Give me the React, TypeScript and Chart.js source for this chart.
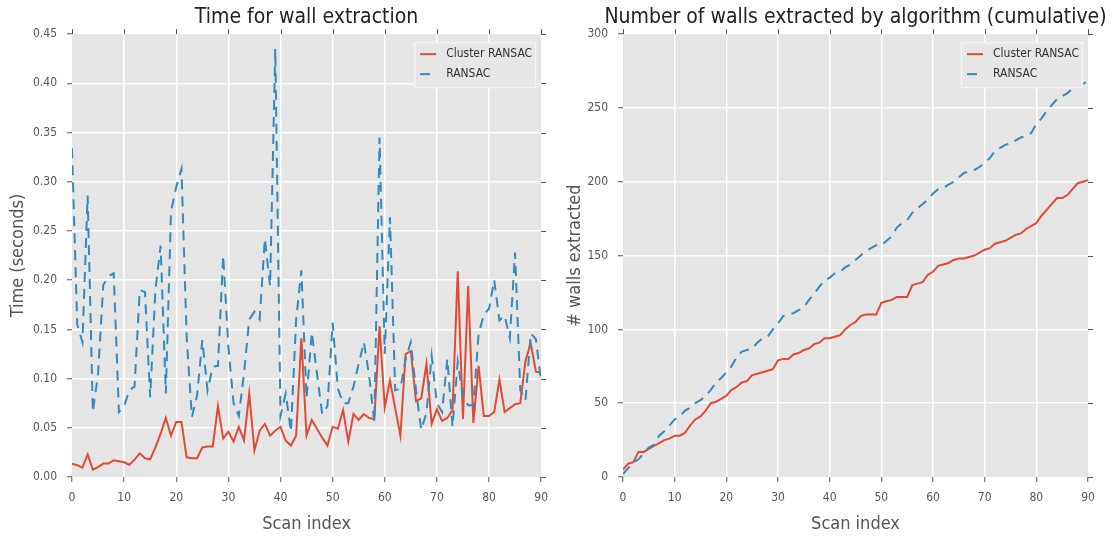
import React, { useEffect, useRef } from "react";
import { Chart, registerables } from "chart.js";

Chart.register(...registerables);

// ---------------- data ----------------
const SCAN_INDEX = [
  0, 1, 2, 3, 4, 5, 6, 7, 8, 9, 10, 11, 12, 13, 14, 15, 16, 17, 18, 19, 20,
  21, 22, 23, 24, 25, 26, 27, 28, 29, 30, 31, 32, 33, 34, 35, 36, 37, 38, 39, 40,
  41, 42, 43, 44, 45, 46, 47, 48, 49, 50, 51, 52, 53, 54, 55, 56, 57, 58, 59, 60,
  61, 62, 63, 64, 65, 66, 67, 68, 69, 70, 71, 72, 73, 74, 75, 76, 77, 78, 79, 80,
  81, 82, 83, 84, 85, 86, 87, 88, 89, 90,
];

const SERIES_LABELS = ["Cluster RANSAC", "RANSAC"];

const CLUSTER_TIME = [
  0.0136, 0.012, 0.0095, 0.023, 0.0075, 0.010, 0.0136, 0.0136, 0.017, 0.016,
  0.015, 0.0125, 0.0176, 0.024, 0.019, 0.018, 0.030, 0.044, 0.060, 0.042,
  0.056, 0.056, 0.020, 0.019, 0.019, 0.030, 0.031, 0.031, 0.072, 0.039,
  0.046, 0.036, 0.051, 0.037, 0.085, 0.027, 0.047, 0.054, 0.042, 0.047,
  0.051, 0.037, 0.032, 0.042, 0.141, 0.042, 0.058, 0.049, 0.040, 0.032,
  0.051, 0.049, 0.068, 0.036, 0.064, 0.058, 0.064, 0.060, 0.059, 0.153,
  0.071, 0.098, 0.070, 0.042, 0.125, 0.128, 0.077, 0.080, 0.115, 0.054,
  0.069, 0.057, 0.060, 0.068, 0.209, 0.059, 0.194, 0.055, 0.113, 0.062,
  0.062, 0.066, 0.099, 0.066, 0.070, 0.074, 0.075, 0.118, 0.136, 0.107,
  0.106,
];

const RANSAC_TIME = [
  0.334, 0.155, 0.137, 0.286, 0.066, 0.105, 0.195, 0.204, 0.207, 0.066,
  0.072, 0.088, 0.092, 0.190, 0.188, 0.081, 0.190, 0.235, 0.085, 0.270,
  0.295, 0.313, 0.142, 0.061, 0.083, 0.139, 0.088, 0.112, 0.113, 0.225,
  0.132, 0.075, 0.062, 0.105, 0.160, 0.168, 0.160, 0.242, 0.194, 0.435,
  0.062, 0.085, 0.046, 0.160, 0.210, 0.080, 0.147, 0.105, 0.064, 0.072,
  0.157, 0.090, 0.075, 0.075, 0.092, 0.115, 0.137, 0.103, 0.056, 0.345,
  0.125, 0.264, 0.088, 0.090, 0.120, 0.137, 0.088, 0.048, 0.065, 0.123,
  0.075, 0.066, 0.120, 0.051, 0.117, 0.081, 0.073, 0.073, 0.145, 0.165,
  0.171, 0.200, 0.159, 0.164, 0.141, 0.228, 0.088, 0.078, 0.146, 0.140,
  0.097,
];

const CLUSTER_CUMULATIVE = [
  5, 9, 10, 17, 17, 19, 21, 23, 25, 26, 28, 28, 30, 35, 39, 41, 45, 50, 51, 53,
  55, 59, 61, 64, 65, 69, 70, 71, 72, 73, 79, 80, 80, 83, 84, 86, 87, 90, 91, 94,
  94, 95, 96, 100, 103, 105, 109, 110, 110, 110, 118, 119, 120, 122, 122, 122, 130, 131, 132, 137,
  139, 143, 144, 145, 147, 148, 148, 149, 150, 152, 154, 155, 158, 159, 160, 162, 164, 165, 168, 170,
  172, 177, 181, 185, 189, 189, 191, 195, 199, 200, 201,
];

const RANSAC_CUMULATIVE = [
  2, 6, 10, 12, 16, 20, 22, 28, 31, 35, 39, 41, 45, 47, 50, 52, 55, 59, 64, 67,
  71, 75, 81, 85, 86, 87, 91, 94, 95, 100, 104, 109, 110, 111, 113, 115, 120, 124, 129, 133,
  135, 138, 139, 142, 144, 147, 150, 153, 155, 157, 157, 160, 163, 169, 172, 174, 179, 182, 185, 188,
  192, 195, 196, 198, 200, 203, 206, 207, 208, 210, 213, 216, 221, 223, 225, 226, 228, 230, 231, 233,
  239, 243, 248, 252, 256, 258, 260, 263, 265, 266, 269,
];

const X_TICKS = [0, 10, 20, 30, 40, 50, 60, 70, 80, 90];
const TIME_TICKS = [0, 0.05, 0.1, 0.15, 0.2, 0.25, 0.3, 0.35, 0.4, 0.45];
const WALL_TICKS = [0, 50, 100, 150, 200, 250, 300];

// ---------------- style ----------------
const FONT = "'DejaVu Sans Condensed', 'Liberation Sans Narrow', 'DejaVu Sans', sans-serif";
const RED = "#E24A33";
const BLUE = "#348ABD";
const DASH = [10, 7];
const TICK_GREY = "#555555";
const W = 557;
const H = 538;

const ggplotPlugin = {
  id: "ggplotDecor",
  afterLayout(chart: any) {
    const a = chart.chartArea;
    const tb = chart.titleBlock;
    if (tb && a) {
      const c = (a.left + a.right) / 2;
      tb.left = c - 300;
      tb.right = c + 300;
    }
  },
  beforeDraw(chart: any) {
    const { ctx, chartArea: a } = chart;
    ctx.save();
    ctx.fillStyle = "#E5E5E5";
    ctx.fillRect(a.left, a.top, a.right - a.left, a.bottom - a.top);
    ctx.restore();
  },
  afterDraw(chart: any) {
    const { ctx, chartArea: a } = chart;
    const xs = chart.scales.x;
    const ys = chart.scales.y;
    ctx.save();
    // outward tick marks on top and right sides
    ctx.strokeStyle = TICK_GREY;
    ctx.lineWidth = 1;
    ctx.beginPath();
    xs.ticks.forEach((t: any) => {
      const px = Math.round(xs.getPixelForValue(t.value)) + 0.5;
      ctx.moveTo(px, a.top - 5);
      ctx.lineTo(px, a.top);
    });
    ys.ticks.forEach((t: any) => {
      const py = Math.round(ys.getPixelForValue(t.value)) + 0.5;
      ctx.moveTo(a.right, py);
      ctx.lineTo(a.right + 5, py);
    });
    ctx.stroke();

    // legend box in the upper right of the plot
    const boxW = 122;
    const boxH = 46;
    const x0 = a.right - 5 - boxW;
    const y0 = a.top + 8;
    ctx.fillStyle = "#E6E6E6";
    ctx.fillRect(x0, y0, boxW, boxH);
    ctx.strokeStyle = "#F4F4F4";
    ctx.lineWidth = 1.5;
    ctx.strokeRect(x0 + 0.5, y0 + 0.5, boxW - 1, boxH - 1);
    chart.data.datasets.forEach((ds: any, i: number) => {
      const cy = y0 + 12 + i * 20;
      ctx.strokeStyle = ds.borderColor;
      ctx.lineWidth = 2;
      ctx.setLineDash(ds.borderDash || []);
      ctx.beginPath();
      ctx.moveTo(x0 + 6, cy);
      ctx.lineTo(x0 + 22, cy);
      ctx.stroke();
      ctx.setLineDash([]);
      ctx.fillStyle = "#333333";
      ctx.font = `12px ${FONT}`;
      ctx.textBaseline = "middle";
      ctx.textAlign = "left";
      ctx.fillText(ds.label, x0 + 32, cy);
    });
    ctx.restore();
  },
};

function gridColor(count: number) {
  return (c: any) => (c.index === 0 || c.index === count - 1 ? "rgba(0,0,0,0)" : "#FFFFFF");
}

function makeConfig(opts: {
  title: string;
  yTitle: string;
  cluster: number[];
  ransac: number[];
  yTicks: number[];
  yFormat: (v: number) => string;
  yWidth: number;
  padRight: number;
}) {
  const yMin = opts.yTicks[0];
  const yMax = opts.yTicks[opts.yTicks.length - 1];
  return {
    type: "line",
    data: {
      labels: SCAN_INDEX,
      datasets: [
        {
          label: SERIES_LABELS[0],
          data: opts.cluster,
          borderColor: RED,
          backgroundColor: RED,
          borderWidth: 2,
          pointRadius: 0,
          tension: 0,
          fill: false,
          order: 1,
        },
        {
          label: SERIES_LABELS[1],
          data: opts.ransac,
          borderColor: BLUE,
          backgroundColor: BLUE,
          borderWidth: 2,
          borderDash: DASH,
          pointRadius: 0,
          tension: 0,
          fill: false,
          order: 0,
        },
      ],
    },
    options: {
      responsive: false,
      animation: false,
      events: [],
      layout: { padding: { top: 0, left: 0, bottom: 0, right: opts.padRight } },
      plugins: {
        legend: { display: false },
        tooltip: { enabled: false },
        title: {
          display: true,
          text: opts.title,
          color: "#222222",
          font: { family: FONT, size: 21, weight: "normal", lineHeight: 1.15 },
          padding: { top: 5, bottom: 5 },
        },
      },
      scales: {
        x: {
          type: "linear",
          min: X_TICKS[0],
          max: X_TICKS[X_TICKS.length - 1],
          afterBuildTicks: (s: any) => {
            s.ticks = X_TICKS.map((v) => ({ value: v }));
          },
          afterFit: (s: any) => {
            s.height = 61;
          },
          ticks: {
            color: TICK_GREY,
            font: { family: FONT, size: 12 },
            padding: 9,
            maxRotation: 0,
            callback: (v: number) => String(v),
          },
          grid: {
            color: gridColor(X_TICKS.length),
            lineWidth: 1.5,
            tickColor: TICK_GREY,
            tickLength: 5,
            tickWidth: 1,
          },
          border: { display: false },
          title: {
            display: true,
            text: "Scan index",
            color: TICK_GREY,
            font: { family: FONT, size: 18 },
            padding: { top: 0, bottom: 3 },
          },
        },
        y: {
          type: "linear",
          min: yMin,
          max: yMax,
          afterBuildTicks: (s: any) => {
            s.ticks = opts.yTicks.map((v) => ({ value: v }));
          },
          afterFit: (s: any) => {
            s.width = opts.yWidth;
          },
          ticks: {
            color: TICK_GREY,
            font: { family: FONT, size: 12 },
            padding: 10,
            callback: (v: number) => opts.yFormat(v),
          },
          grid: {
            color: gridColor(opts.yTicks.length),
            lineWidth: 1.5,
            tickColor: TICK_GREY,
            tickLength: 5,
            tickWidth: 1,
          },
          border: { display: false },
          title: {
            display: true,
            text: opts.yTitle,
            color: TICK_GREY,
            font: { family: FONT, size: 18 },
            padding: { top: 8, bottom: 0 },
          },
        },
      },
    },
    plugins: [ggplotPlugin],
  };
}

function ChartCanvas({ config, left }: { config: any; left: number }) {
  const ref = useRef<HTMLCanvasElement | null>(null);
  useEffect(() => {
    if (!ref.current) return;
    const chart = new Chart(ref.current, config);
    return () => chart.destroy();
  }, []);
  return (
    <canvas
      ref={ref}
      width={W}
      height={H}
      style={{ position: "absolute", left, top: 0, width: W, height: H }}
    />
  );
}

export default function App() {
  const timeConfig = makeConfig({
    title: "Time for wall extraction",
    yTitle: "Time (seconds)",
    cluster: CLUSTER_TIME,
    ransac: RANSAC_TIME,
    yTicks: TIME_TICKS,
    yFormat: (v) => v.toFixed(2),
    yWidth: 72,
    padRight: 14,
  });
  const wallsConfig = makeConfig({
    title: "Number of walls extracted by algorithm (cumulative)",
    yTitle: "# walls extracted",
    cluster: CLUSTER_CUMULATIVE,
    ransac: RANSAC_CUMULATIVE,
    yTicks: WALL_TICKS,
    yFormat: (v) => String(Math.round(v)),
    yWidth: 66,
    padRight: 26,
  });
  return (
    <div
      style={{
        position: "fixed",
        left: 0,
        top: 0,
        width: 1114,
        height: 538,
        background: "#FFFFFF",
        overflow: "hidden",
      }}
    >
      <ChartCanvas config={timeConfig} left={0} />
      <ChartCanvas config={wallsConfig} left={557} />
    </div>
  );
}
